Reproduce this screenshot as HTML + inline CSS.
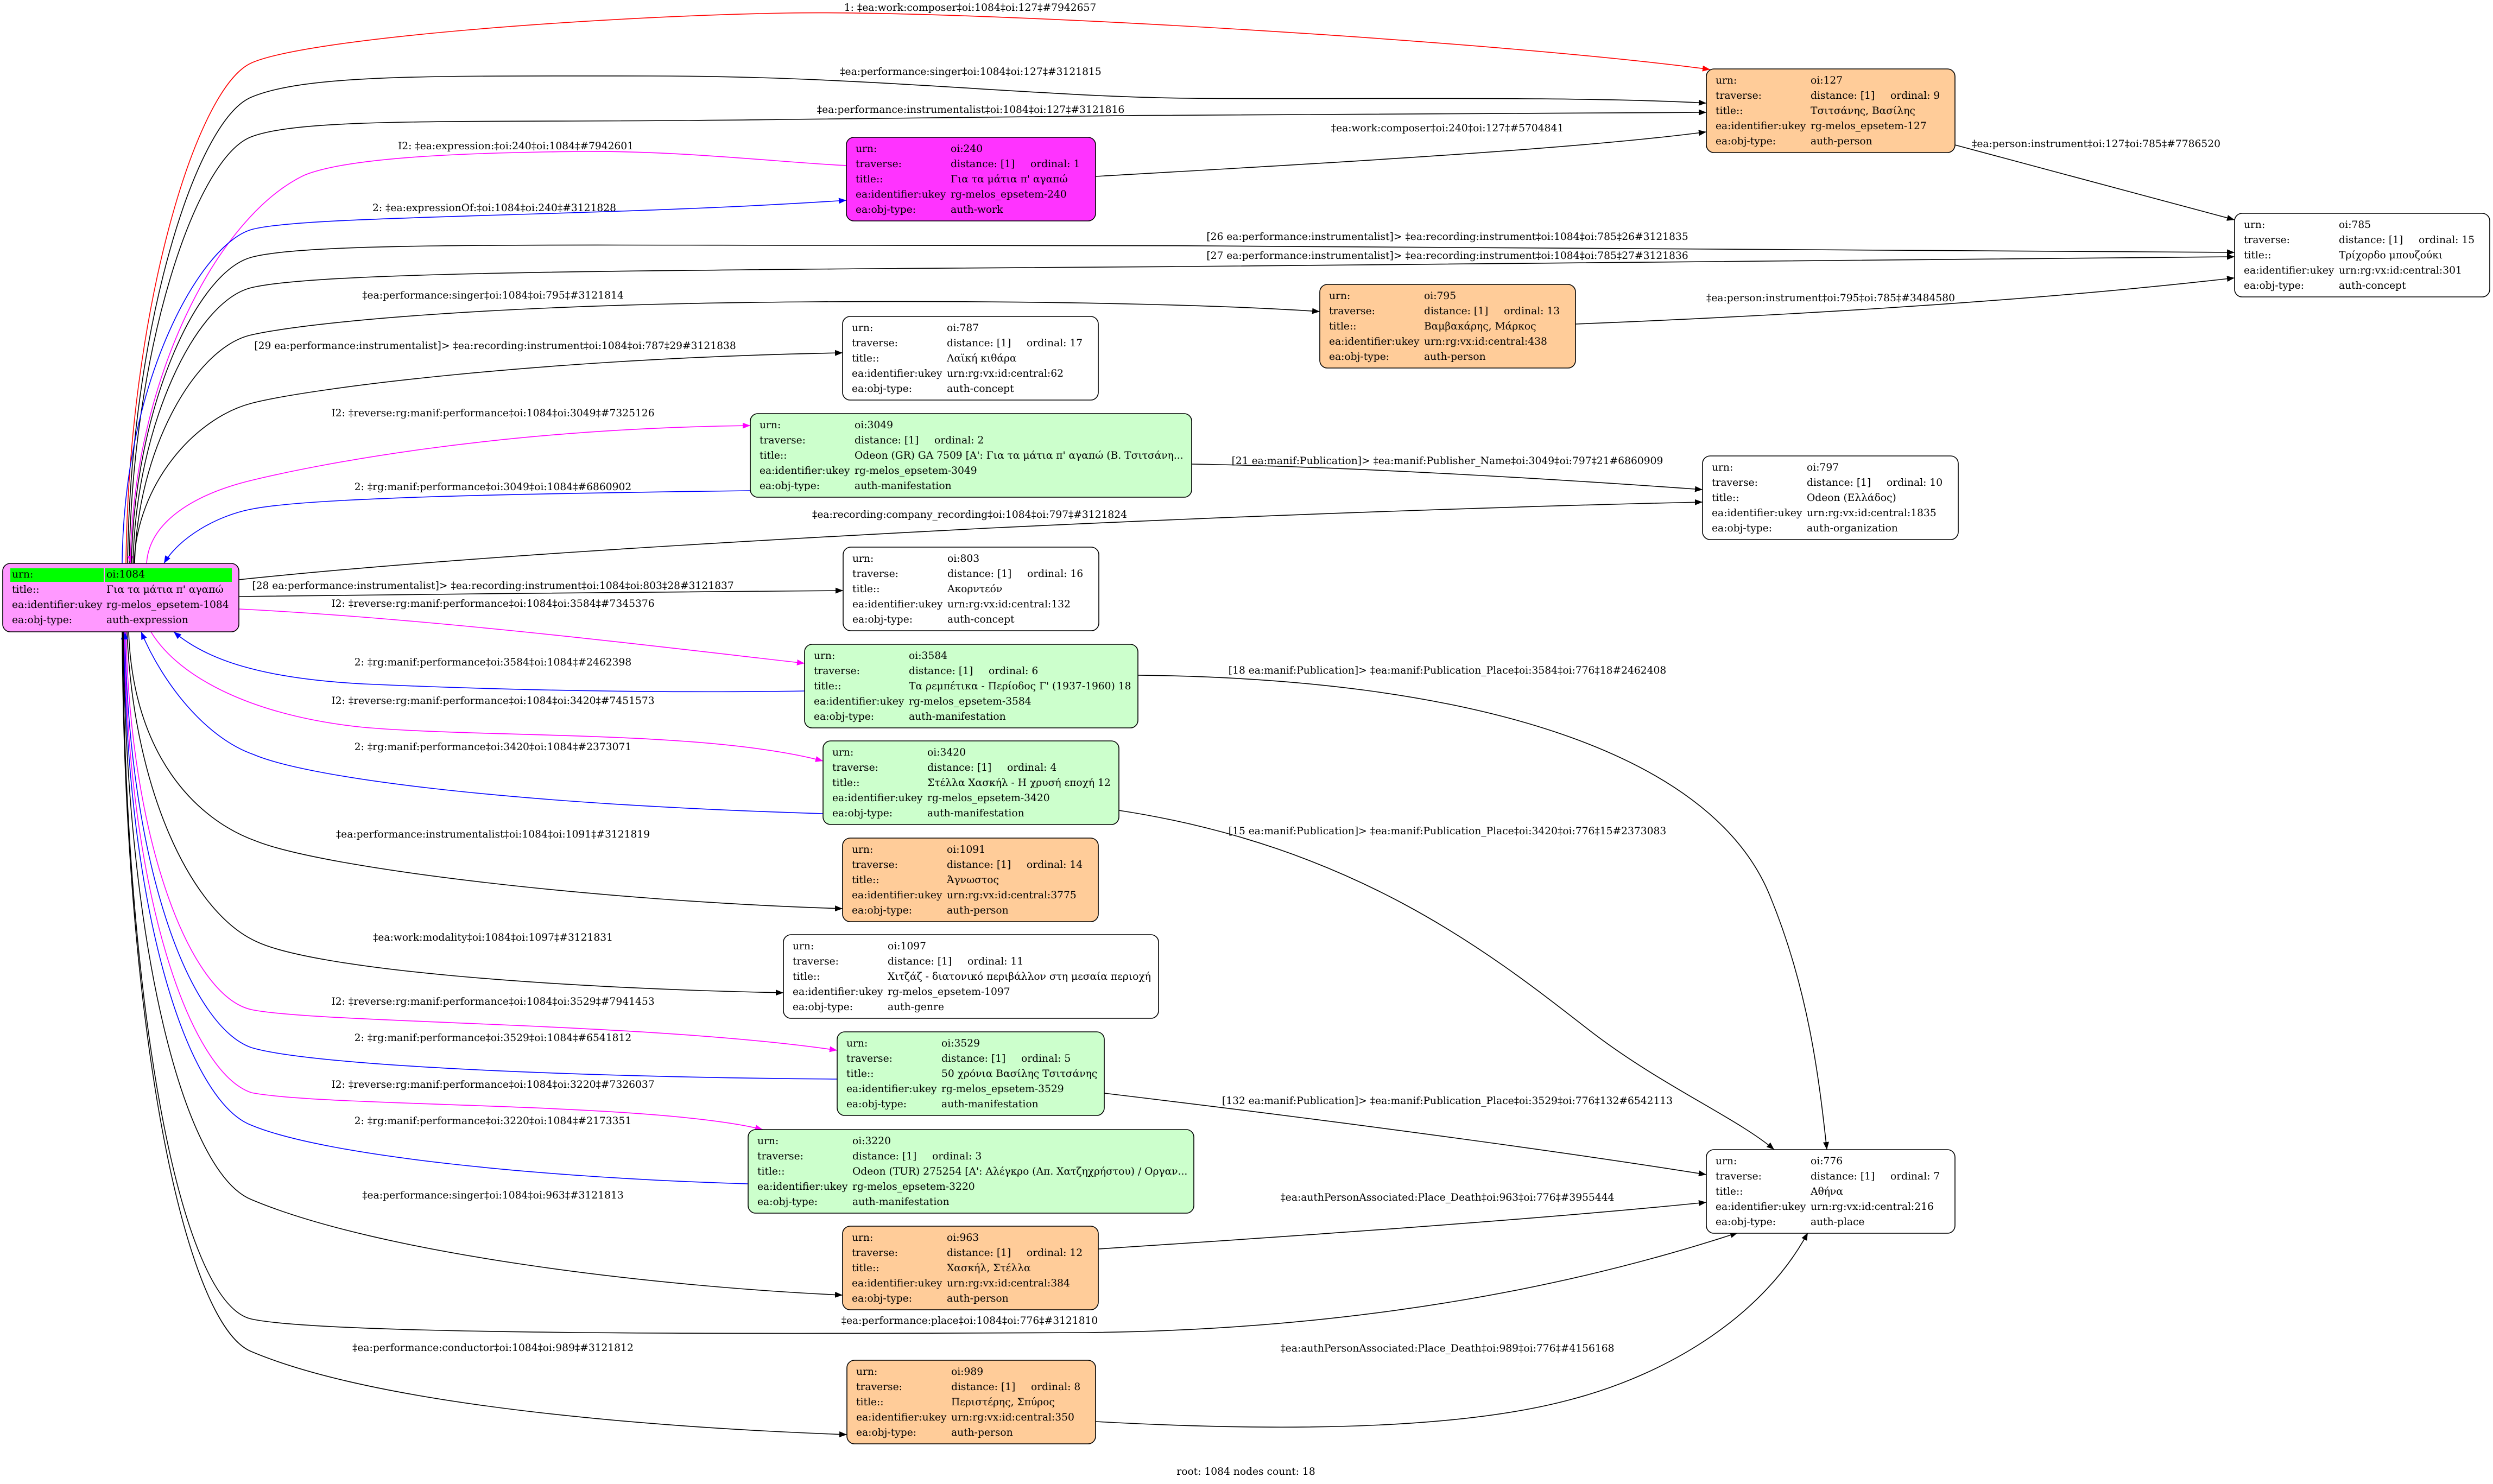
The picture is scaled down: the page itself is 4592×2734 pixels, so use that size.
<!DOCTYPE html>
<html>
<head>
<meta charset="utf-8">
<style>
html,body{margin:0;padding:0;background:#fff;}
svg{display:block;}
text{font-family:"DejaVu Serif","Liberation Serif","Noto Serif CJK SC",serif;font-size:18.67px;fill:#000;}
.lbl{text-anchor:middle;}
.e{fill:none;stroke-width:1.6;}
.k{stroke:#000;}
.r{stroke:#ff0000;}
.m{stroke:#ff00ff;}
.b{stroke:#0000ff;}
.n{stroke:#000;stroke-width:1.6;}
</style>
</head>
<body>
<svg width="4592" height="2734" viewBox="0 0 4592 2734" xmlns="http://www.w3.org/2000/svg">
<defs>
<marker id="ak" viewBox="0 0 14 11" refX="14" refY="5.5" markerWidth="14" markerHeight="11" markerUnits="userSpaceOnUse" orient="auto-start-reverse"><path d="M0,0 L14,5.5 L0,11 z" fill="#000"/></marker>
<marker id="ar" viewBox="0 0 14 11" refX="14" refY="5.5" markerWidth="14" markerHeight="11" markerUnits="userSpaceOnUse" orient="auto-start-reverse"><path d="M0,0 L14,5.5 L0,11 z" fill="#ff0000"/></marker>
<marker id="am" viewBox="0 0 14 11" refX="14" refY="5.5" markerWidth="14" markerHeight="11" markerUnits="userSpaceOnUse" orient="auto-start-reverse"><path d="M0,0 L14,5.5 L0,11 z" fill="#ff00ff"/></marker>
<marker id="abl" viewBox="0 0 14 11" refX="14" refY="5.5" markerWidth="14" markerHeight="11" markerUnits="userSpaceOnUse" orient="auto-start-reverse"><path d="M0,0 L14,5.5 L0,11 z" fill="#0000ff"/></marker>
</defs>
<rect x="0" y="0" width="4592" height="2734" fill="#fff"/>

<!-- EDGES -->
<path class="e r" marker-end="url(#ar)" d="M232,1038 C237,577 360,162 463,116 C566,70 1100,30 1450,24 C1800,18 2750,75 3150,128"/>
<path class="e k" marker-end="url(#ak)" d="M235,1038 C240,608 360,222 463,179 C566,136 800,140 1200,140 C1600,140 1900,178 2188,181 C2426,184 2900,176 3143,190"/>
<path class="e k" marker-end="url(#ak)" d="M238,1038 C243,645 360,291 463,252 C566,213 900,228 1450,220 C2000,212 2700,208 3143,207"/>
<path class="e k" marker-end="url(#ak)" d="M2018,325 C2450,300 2900,275 3143,243"/>
<path class="e m" marker-start="url(#am)" d="M240,1038 C245,700 400,400 560,323 C640,290 850,281 1080,279 C1260,278 1450,300 1559,305"/>
<path class="e b" marker-end="url(#abl)" d="M225,1038 C228,700 370,450 463,423 C556,396 1100,400 1559,369"/>
<path class="e k" marker-end="url(#ak)" d="M242,1038 C247,756 360,502 463,474 C566,446 1000,452 1600,452 C2500,452 3500,458 4116,465"/>
<path class="e k" marker-end="url(#ak)" d="M245,1038 C250,784 360,555 463,530 C566,505 1000,500 1600,495 C2500,490 3500,478 4116,473"/>
<path class="e k" marker-end="url(#ak)" d="M3601,267 L4116,405"/>
<path class="e k" marker-end="url(#ak)" d="M248,1038 C253,827 360,640 463,617 C566,594 900,560 1500,556 C2000,553 2300,565 2431,574"/>
<path class="e k" marker-end="url(#ak)" d="M2902,597 C3200,585 3700,560 4116,512"/>
<path class="e k" marker-end="url(#ak)" d="M247,1038 C252,890 360,770 463,743 C566,716 1000,660 1552,650"/>
<path class="e m" marker-end="url(#am)" d="M270,1038 C275,960 360,910 463,885 C566,860 900,790 1382,784"/>
<path class="e b" marker-start="url(#abl)" d="M302,1038 C330,990 400,950 463,938 C560,918 900,910 1382,904"/>
<path class="e k" marker-end="url(#ak)" d="M2195,855 C2500,860 2900,885 3136,902"/>
<path class="e k" marker-end="url(#ak)" d="M440,1068 C800,1030 1300,1000 1820,973 C2400,945 2900,930 3136,925"/>
<path class="e k" marker-end="url(#ak)" d="M440,1099 C800,1095 1200,1090 1553,1088"/>
<path class="e m" marker-end="url(#am)" d="M440,1122 C800,1140 1200,1190 1482,1222"/>
<path class="e b" marker-start="url(#abl)" d="M320,1164 C380,1215 480,1250 670,1260 C1000,1275 1300,1276 1482,1273"/>
<path class="e k" marker-end="url(#ak)" d="M2096,1244 C2700,1250 3150,1380 3260,1650 C3330,1820 3350,1980 3365,2118"/>
<path class="e m" marker-end="url(#am)" d="M278,1164 C330,1250 470,1320 670,1340 C900,1360 1300,1345 1516,1402"/>
<path class="e b" marker-start="url(#abl)" d="M260,1164 C300,1260 380,1360 467,1390 C560,1430 900,1480 1516,1499"/>
<path class="e k" marker-end="url(#ak)" d="M2061,1493 C2500,1560 2750,1760 2930,1900 C3060,2000 3200,2060 3268,2118"/>
<path class="e k" marker-end="url(#ak)" d="M237,1164 C245,1390 360,1510 473,1550 C600,1600 1100,1660 1552,1674"/>
<path class="e k" marker-end="url(#ak)" d="M234,1164 C245,1450 350,1680 473,1735 C580,1785 1000,1820 1443,1829"/>
<path class="e m" marker-end="url(#am)" d="M232,1164 C240,1550 350,1835 463,1860 C580,1885 1200,1884 1542,1935"/>
<path class="e b" marker-start="url(#abl)" d="M230,1164 C237,1600 350,1890 463,1930 C580,1965 1100,1985 1542,1988"/>
<path class="e k" marker-end="url(#ak)" d="M2034,2014 C2500,2070 2900,2125 3143,2164"/>
<path class="e m" marker-end="url(#am)" d="M229,1164 C235,1650 350,1975 463,2013 C600,2040 1200,2030 1405,2081"/>
<path class="e b" marker-start="url(#abl)" d="M228,1164 C233,1700 350,2030 463,2073 C600,2130 1000,2170 1378,2181"/>
<path class="e k" marker-end="url(#ak)" d="M227,1164 C232,1750 340,2160 463,2210 C700,2310 1200,2370 1552,2386"/>
<path class="e k" marker-end="url(#ak)" d="M2023,2301 C2500,2270 2900,2240 3143,2215"/>
<path class="e k" marker-end="url(#ak)" d="M226,1164 C230,1850 330,2400 463,2430 C600,2460 1400,2458 2000,2455 C2500,2450 2900,2370 3201,2271"/>
<path class="e k" marker-end="url(#ak)" d="M225,1164 C229,1900 340,2440 463,2490 C700,2590 1200,2630 1560,2643"/>
<path class="e k" marker-end="url(#ak)" d="M2018,2619 C2400,2640 2700,2630 2891,2579 C3080,2530 3250,2420 3330,2271"/>

<!-- EDGE LABELS -->
<text class="lbl" x="1787" y="20">1: ‡ea:work:composer‡oi:1084‡oi:127‡#7942657</text>
<text class="lbl" x="1788" y="138">‡ea:performance:singer‡oi:1084‡oi:127‡#3121815</text>
<text class="lbl" x="1788" y="208">‡ea:performance:instrumentalist‡oi:1084‡oi:127‡#3121816</text>
<text class="lbl" x="2666" y="242">‡ea:work:composer‡oi:240‡oi:127‡#5704841</text>
<text class="lbl" x="950" y="275">I2: ‡ea:expression:‡oi:240‡oi:1084‡#7942601</text>
<text x="686" y="389">2: ‡ea:expressionOf:‡oi:1084‡oi:240‡#3121828</text>
<text class="lbl" x="2666" y="442">[26 ea:performance:instrumentalist]&gt; ‡ea:recording:instrument‡oi:1084‡oi:785‡26#3121835</text>
<text class="lbl" x="2666" y="477">[27 ea:performance:instrumentalist]&gt; ‡ea:recording:instrument‡oi:1084‡oi:785‡27#3121836</text>
<text class="lbl" x="3861" y="271">‡ea:person:instrument‡oi:127‡oi:785‡#7786520</text>
<text class="lbl" x="908" y="550">‡ea:performance:singer‡oi:1084‡oi:795‡#3121814</text>
<text class="lbl" x="3372" y="555">‡ea:person:instrument‡oi:795‡oi:785‡#3484580</text>
<text class="lbl" x="912" y="643">[29 ea:performance:instrumentalist]&gt; ‡ea:recording:instrument‡oi:1084‡oi:787‡29#3121838</text>
<text class="lbl" x="908" y="767">I2: ‡reverse:rg:manif:performance‡oi:1084‡oi:3049‡#7325126</text>
<text class="lbl" x="908" y="903">2: ‡rg:manif:performance‡oi:3049‡oi:1084‡#6860902</text>
<text class="lbl" x="2666" y="855">[21 ea:manif:Publication]&gt; ‡ea:manif:Publisher_Name‡oi:3049‡oi:797‡21#6860909</text>
<text class="lbl" x="1786" y="954">‡ea:recording:company_recording‡oi:1084‡oi:797‡#3121824</text>
<text class="lbl" x="908" y="1085">[28 ea:performance:instrumentalist]&gt; ‡ea:recording:instrument‡oi:1084‡oi:803‡28#3121837</text>
<text class="lbl" x="908" y="1118">I2: ‡reverse:rg:manif:performance‡oi:1084‡oi:3584‡#7345376</text>
<text class="lbl" x="908" y="1226">2: ‡rg:manif:performance‡oi:3584‡oi:1084‡#2462398</text>
<text class="lbl" x="2666" y="1241">[18 ea:manif:Publication]&gt; ‡ea:manif:Publication_Place‡oi:3584‡oi:776‡18#2462408</text>
<text class="lbl" x="908" y="1297">I2: ‡reverse:rg:manif:performance‡oi:1084‡oi:3420‡#7451573</text>
<text class="lbl" x="908" y="1382">2: ‡rg:manif:performance‡oi:3420‡oi:1084‡#2373071</text>
<text class="lbl" x="2666" y="1537">[15 ea:manif:Publication]&gt; ‡ea:manif:Publication_Place‡oi:3420‡oi:776‡15#2373083</text>
<text class="lbl" x="908" y="1543">‡ea:performance:instrumentalist‡oi:1084‡oi:1091‡#3121819</text>
<text class="lbl" x="908" y="1733">‡ea:work:modality‡oi:1084‡oi:1097‡#3121831</text>
<text class="lbl" x="908" y="1851">I2: ‡reverse:rg:manif:performance‡oi:1084‡oi:3529‡#7941453</text>
<text class="lbl" x="908" y="1918">2: ‡rg:manif:performance‡oi:3529‡oi:1084‡#6541812</text>
<text class="lbl" x="2666" y="2034">[132 ea:manif:Publication]&gt; ‡ea:manif:Publication_Place‡oi:3529‡oi:776‡132#6542113</text>
<text class="lbl" x="908" y="2004">I2: ‡reverse:rg:manif:performance‡oi:1084‡oi:3220‡#7326037</text>
<text class="lbl" x="908" y="2071">2: ‡rg:manif:performance‡oi:3220‡oi:1084‡#2173351</text>
<text class="lbl" x="908" y="2208">‡ea:performance:singer‡oi:1084‡oi:963‡#3121813</text>
<text class="lbl" x="2666" y="2212">‡ea:authPersonAssociated:Place_Death‡oi:963‡oi:776‡#3955444</text>
<text class="lbl" x="1786" y="2439">‡ea:performance:place‡oi:1084‡oi:776‡#3121810</text>
<text class="lbl" x="908" y="2489">‡ea:performance:conductor‡oi:1084‡oi:989‡#3121812</text>
<text class="lbl" x="2666" y="2490">‡ea:authPersonAssociated:Place_Death‡oi:989‡oi:776‡#4156168</text>

<!-- ROOT NODE -->
<g transform="translate(5,1038)">
<rect class="n" x="0" y="0" width="435" height="126" rx="14" fill="#ff99ff"/>
<rect x="14" y="9" width="172" height="25" fill="#00ff00"/>
<rect x="188" y="9" width="234" height="25" fill="#00ff00"/>
<text x="17" y="26">urn:</text><text x="191" y="26">oi:1084</text>
<text x="17" y="54">title::</text><text x="191" y="54">Για τα μάτια π' αγαπώ</text>
<text x="17" y="82">ea:identifier:ukey</text><text x="191" y="82">rg-melos_epsetem-1084</text>
<text x="17" y="110">ea:obj-type:</text><text x="191" y="110">auth-expression</text>
</g>

<!-- NODE 127 -->
<g transform="translate(3143,127)">
<rect class="n" x="0" y="0" width="458" height="154" rx="14" fill="#ffcc99"/>
<text x="17" y="27">urn:</text><text x="192" y="27">oi:127</text>
<text x="17" y="55">traverse:</text><text x="192" y="55">distance: [1]</text><text x="339" y="55">ordinal: 9</text>
<text x="17" y="83">title::</text><text x="192" y="83">Τσιτσάνης, Βασίλης</text>
<text x="17" y="111">ea:identifier:ukey</text><text x="192" y="111">rg-melos_epsetem-127</text>
<text x="17" y="139">ea:obj-type:</text><text x="192" y="139">auth-person</text>
</g>

<!-- NODE 240 -->
<g transform="translate(1559,253)">
<rect class="n" x="0" y="0" width="459" height="154" rx="14" fill="#ff33ff"/>
<text x="17" y="27">urn:</text><text x="192" y="27">oi:240</text>
<text x="17" y="55">traverse:</text><text x="192" y="55">distance: [1]</text><text x="339" y="55">ordinal: 1</text>
<text x="17" y="83">title::</text><text x="192" y="83">Για τα μάτια π' αγαπώ</text>
<text x="17" y="111">ea:identifier:ukey</text><text x="192" y="111">rg-melos_epsetem-240</text>
<text x="17" y="139">ea:obj-type:</text><text x="192" y="139">auth-work</text>
</g>

<!-- NODE 785 -->
<g transform="translate(4116,393)">
<rect class="n" x="0" y="0" width="470" height="154" rx="14" fill="#ffffff"/>
<text x="17" y="27">urn:</text><text x="192" y="27">oi:785</text>
<text x="17" y="55">traverse:</text><text x="192" y="55">distance: [1]</text><text x="339" y="55">ordinal: 15</text>
<text x="17" y="83">title::</text><text x="192" y="83">Τρίχορδο μπουζούκι</text>
<text x="17" y="111">ea:identifier:ukey</text><text x="192" y="111">urn:rg:vx:id:central:301</text>
<text x="17" y="139">ea:obj-type:</text><text x="192" y="139">auth-concept</text>
</g>

<!-- NODE 795 -->
<g transform="translate(2431,524)">
<rect class="n" x="0" y="0" width="471" height="154" rx="14" fill="#ffcc99"/>
<text x="17" y="27">urn:</text><text x="192" y="27">oi:795</text>
<text x="17" y="55">traverse:</text><text x="192" y="55">distance: [1]</text><text x="339" y="55">ordinal: 13</text>
<text x="17" y="83">title::</text><text x="192" y="83">Βαμβακάρης, Μάρκος</text>
<text x="17" y="111">ea:identifier:ukey</text><text x="192" y="111">urn:rg:vx:id:central:438</text>
<text x="17" y="139">ea:obj-type:</text><text x="192" y="139">auth-person</text>
</g>

<!-- NODE 787 -->
<g transform="translate(1552,583)">
<rect class="n" x="0" y="0" width="471" height="154" rx="14" fill="#ffffff"/>
<text x="17" y="27">urn:</text><text x="192" y="27">oi:787</text>
<text x="17" y="55">traverse:</text><text x="192" y="55">distance: [1]</text><text x="339" y="55">ordinal: 17</text>
<text x="17" y="83">title::</text><text x="192" y="83">Λαϊκή κιθάρα</text>
<text x="17" y="111">ea:identifier:ukey</text><text x="192" y="111">urn:rg:vx:id:central:62</text>
<text x="17" y="139">ea:obj-type:</text><text x="192" y="139">auth-concept</text>
</g>

<!-- NODE 3049 -->
<g transform="translate(1382,762)">
<rect class="n" x="0" y="0" width="813" height="154" rx="14" fill="#ccffcc"/>
<text x="17" y="27">urn:</text><text x="192" y="27">oi:3049</text>
<text x="17" y="55">traverse:</text><text x="192" y="55">distance: [1]</text><text x="339" y="55">ordinal: 2</text>
<text x="17" y="83">title::</text><text x="192" y="83">Odeon (GR) GA 7509 [A': Για τα μάτια π' αγαπώ (Β. Τσιτσάνη...</text>
<text x="17" y="111">ea:identifier:ukey</text><text x="192" y="111">rg-melos_epsetem-3049</text>
<text x="17" y="139">ea:obj-type:</text><text x="192" y="139">auth-manifestation</text>
</g>

<!-- NODE 797 -->
<g transform="translate(3136,840)">
<rect class="n" x="0" y="0" width="471" height="154" rx="14" fill="#ffffff"/>
<text x="17" y="27">urn:</text><text x="192" y="27">oi:797</text>
<text x="17" y="55">traverse:</text><text x="192" y="55">distance: [1]</text><text x="339" y="55">ordinal: 10</text>
<text x="17" y="83">title::</text><text x="192" y="83">Odeon (Ελλάδος)</text>
<text x="17" y="111">ea:identifier:ukey</text><text x="192" y="111">urn:rg:vx:id:central:1835</text>
<text x="17" y="139">ea:obj-type:</text><text x="192" y="139">auth-organization</text>
</g>

<!-- NODE 803 -->
<g transform="translate(1553,1008)">
<rect class="n" x="0" y="0" width="471" height="154" rx="14" fill="#ffffff"/>
<text x="17" y="27">urn:</text><text x="192" y="27">oi:803</text>
<text x="17" y="55">traverse:</text><text x="192" y="55">distance: [1]</text><text x="339" y="55">ordinal: 16</text>
<text x="17" y="83">title::</text><text x="192" y="83">Ακορντεόν</text>
<text x="17" y="111">ea:identifier:ukey</text><text x="192" y="111">urn:rg:vx:id:central:132</text>
<text x="17" y="139">ea:obj-type:</text><text x="192" y="139">auth-concept</text>
</g>

<!-- NODE 3584 -->
<g transform="translate(1482,1187)">
<rect class="n" x="0" y="0" width="614" height="154" rx="14" fill="#ccffcc"/>
<text x="17" y="27">urn:</text><text x="192" y="27">oi:3584</text>
<text x="17" y="55">traverse:</text><text x="192" y="55">distance: [1]</text><text x="339" y="55">ordinal: 6</text>
<text x="17" y="83">title::</text><text x="192" y="83">Τα ρεμπέτικα - Περίοδος Γ' (1937-1960) 18</text>
<text x="17" y="111">ea:identifier:ukey</text><text x="192" y="111">rg-melos_epsetem-3584</text>
<text x="17" y="139">ea:obj-type:</text><text x="192" y="139">auth-manifestation</text>
</g>

<!-- NODE 3420 -->
<g transform="translate(1516,1365)">
<rect class="n" x="0" y="0" width="545" height="154" rx="14" fill="#ccffcc"/>
<text x="17" y="27">urn:</text><text x="192" y="27">oi:3420</text>
<text x="17" y="55">traverse:</text><text x="192" y="55">distance: [1]</text><text x="339" y="55">ordinal: 4</text>
<text x="17" y="83">title::</text><text x="192" y="83">Στέλλα Χασκήλ - Η χρυσή εποχή 12</text>
<text x="17" y="111">ea:identifier:ukey</text><text x="192" y="111">rg-melos_epsetem-3420</text>
<text x="17" y="139">ea:obj-type:</text><text x="192" y="139">auth-manifestation</text>
</g>

<!-- NODE 1091 -->
<g transform="translate(1552,1544)">
<rect class="n" x="0" y="0" width="471" height="154" rx="14" fill="#ffcc99"/>
<text x="17" y="27">urn:</text><text x="192" y="27">oi:1091</text>
<text x="17" y="55">traverse:</text><text x="192" y="55">distance: [1]</text><text x="339" y="55">ordinal: 14</text>
<text x="17" y="83">title::</text><text x="192" y="83">Άγνωστος</text>
<text x="17" y="111">ea:identifier:ukey</text><text x="192" y="111">urn:rg:vx:id:central:3775</text>
<text x="17" y="139">ea:obj-type:</text><text x="192" y="139">auth-person</text>
</g>

<!-- NODE 1097 -->
<g transform="translate(1443,1722)">
<rect class="n" x="0" y="0" width="691" height="154" rx="14" fill="#ffffff"/>
<text x="17" y="27">urn:</text><text x="192" y="27">oi:1097</text>
<text x="17" y="55">traverse:</text><text x="192" y="55">distance: [1]</text><text x="339" y="55">ordinal: 11</text>
<text x="17" y="83">title::</text><text x="192" y="83">Χιτζάζ - διατονικό περιβάλλον στη μεσαία περιοχή</text>
<text x="17" y="111">ea:identifier:ukey</text><text x="192" y="111">rg-melos_epsetem-1097</text>
<text x="17" y="139">ea:obj-type:</text><text x="192" y="139">auth-genre</text>
</g>

<!-- NODE 3529 -->
<g transform="translate(1542,1901)">
<rect class="n" x="0" y="0" width="492" height="154" rx="14" fill="#ccffcc"/>
<text x="17" y="27">urn:</text><text x="192" y="27">oi:3529</text>
<text x="17" y="55">traverse:</text><text x="192" y="55">distance: [1]</text><text x="339" y="55">ordinal: 5</text>
<text x="17" y="83">title::</text><text x="192" y="83">50 χρόνια Βασίλης Τσιτσάνης</text>
<text x="17" y="111">ea:identifier:ukey</text><text x="192" y="111">rg-melos_epsetem-3529</text>
<text x="17" y="139">ea:obj-type:</text><text x="192" y="139">auth-manifestation</text>
</g>

<!-- NODE 3220 -->
<g transform="translate(1378,2081)">
<rect class="n" x="0" y="0" width="821" height="154" rx="14" fill="#ccffcc"/>
<text x="17" y="27">urn:</text><text x="192" y="27">oi:3220</text>
<text x="17" y="55">traverse:</text><text x="192" y="55">distance: [1]</text><text x="339" y="55">ordinal: 3</text>
<text x="17" y="83">title::</text><text x="192" y="83">Odeon (TUR) 275254 [A': Αλέγκρο (Απ. Χατζηχρήστου) / Οργαν...</text>
<text x="17" y="111">ea:identifier:ukey</text><text x="192" y="111">rg-melos_epsetem-3220</text>
<text x="17" y="139">ea:obj-type:</text><text x="192" y="139">auth-manifestation</text>
</g>

<!-- NODE 963 -->
<g transform="translate(1552,2259)">
<rect class="n" x="0" y="0" width="471" height="154" rx="14" fill="#ffcc99"/>
<text x="17" y="27">urn:</text><text x="192" y="27">oi:963</text>
<text x="17" y="55">traverse:</text><text x="192" y="55">distance: [1]</text><text x="339" y="55">ordinal: 12</text>
<text x="17" y="83">title::</text><text x="192" y="83">Χασκήλ, Στέλλα</text>
<text x="17" y="111">ea:identifier:ukey</text><text x="192" y="111">urn:rg:vx:id:central:384</text>
<text x="17" y="139">ea:obj-type:</text><text x="192" y="139">auth-person</text>
</g>

<!-- NODE 776 -->
<g transform="translate(3143,2118)">
<rect class="n" x="0" y="0" width="458" height="154" rx="14" fill="#ffffff"/>
<text x="17" y="27">urn:</text><text x="192" y="27">oi:776</text>
<text x="17" y="55">traverse:</text><text x="192" y="55">distance: [1]</text><text x="339" y="55">ordinal: 7</text>
<text x="17" y="83">title::</text><text x="192" y="83">Αθήνα</text>
<text x="17" y="111">ea:identifier:ukey</text><text x="192" y="111">urn:rg:vx:id:central:216</text>
<text x="17" y="139">ea:obj-type:</text><text x="192" y="139">auth-place</text>
</g>

<!-- NODE 989 -->
<g transform="translate(1560,2506)">
<rect class="n" x="0" y="0" width="458" height="154" rx="14" fill="#ffcc99"/>
<text x="17" y="27">urn:</text><text x="192" y="27">oi:989</text>
<text x="17" y="55">traverse:</text><text x="192" y="55">distance: [1]</text><text x="339" y="55">ordinal: 8</text>
<text x="17" y="83">title::</text><text x="192" y="83">Περιστέρης, Σπύρος</text>
<text x="17" y="111">ea:identifier:ukey</text><text x="192" y="111">urn:rg:vx:id:central:350</text>
<text x="17" y="139">ea:obj-type:</text><text x="192" y="139">auth-person</text>
</g>

<text class="lbl" x="2295" y="2717">root: 1084 nodes count: 18</text>
</svg>
</body>
</html>
